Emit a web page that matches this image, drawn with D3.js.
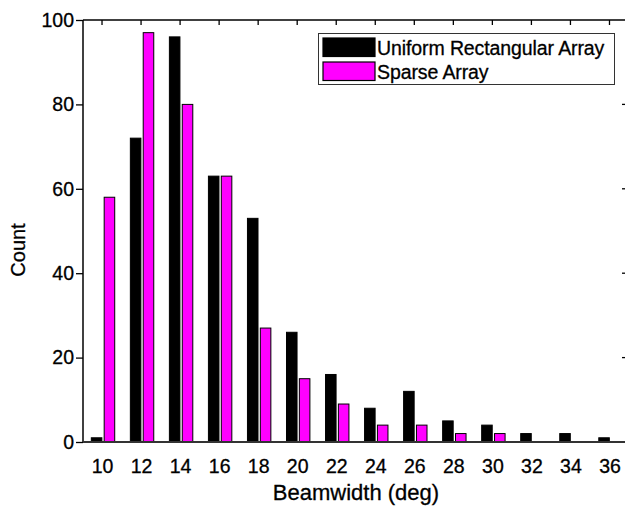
<!DOCTYPE html>
<html>
<head>
<meta charset="utf-8">
<script src="https://cdn.jsdelivr.net/npm/d3@7"></script>
<style>
  body { margin: 0; background: #fff; }
  text { font-family: "Liberation Sans", Arial, Helvetica, sans-serif; fill: #000; stroke: #000; stroke-width: 0.3px; }
</style>
</head>
<body>
<svg id="chart" width="625" height="506"></svg>
<script>
// beamwidth bins (deg)
var bins = [10, 12, 14, 16, 18, 20, 22, 24, 26, 28, 30, 32, 34, 36];
var seriesNames = ["Uniform Rectangular Array", "Sparse Array"];
var uraCounts = [1, 72, 96, 63, 53, 26, 16, 8, 12, 5, 4, 2, 2, 1];
var sparseCounts = [58, 97, 80, 63, 27, 15, 9, 4, 4, 2, 2, 0, 0, 0];
var yTicks = [0, 20, 40, 60, 80, 100];
var colors = ["#000000", "#ff00ff"];

var svg = d3.select("#chart");

var plotL = 83, plotR = 629, plotT = 20, plotB = 442;

var x = d3.scaleLinear().domain([9, 37]).range([plotL - 0.5, plotR]);
var y = d3.scaleLinear().domain([0, 100]).range([plotB, plotT]);
//offset of the two bars inside each group, in pixels around the tick
var inner = d3.scaleBand().domain(seriesNames).range([-10.7, 12.7]).paddingInner(0.18);

var rows = bins.map(function(b, i) {
    return { bin: b, values: [uraCounts[i], sparseCounts[i]] };
});

//bars
var groups = svg.selectAll(".grp")
    .data(rows)
    .enter().append("g")
    .attr("class", "grp")
    .attr("transform", function(d) { return "translate(" + x(d.bin) + ",0)"; });

groups.selectAll("rect")
    .data(function(d) { return d.values.map(function(v, k) { return { name: seriesNames[k], value: v, k: k }; }); })
    .enter().append("rect")
    .attr("x", function(d) { return inner(d.name); })
    .attr("width", inner.bandwidth())
    .attr("y", function(d) { return y(d.value); })
    .attr("height", function(d) { return plotB - y(d.value); })
    .style("fill", function(d) { return colors[d.k]; })
    .style("stroke", "#000")
    .style("stroke-width", 1)
    .style("display", function(d) { return d.value > 0 ? null : "none"; });

//axes
var xAxis = svg.append("g")
    .attr("transform", "translate(0," + plotB + ")")
    .call(d3.axisBottom(x).tickValues(bins).tickSize(0).tickPadding(17).tickFormat(d3.format("d")));
xAxis.select(".domain").remove();
xAxis.selectAll("text").style("font-size", "19.5px");

var yAxis = svg.append("g")
    .attr("transform", "translate(" + plotL + ",0)")
    .call(d3.axisLeft(y).tickValues(yTicks).tickSize(7).tickPadding(2));
yAxis.select(".domain").remove();
yAxis.selectAll("line").style("stroke", "#000").style("stroke-width", 1.3);
yAxis.selectAll("text").style("font-size", "19.5px");

//top ticks pointing down, right ticks pointing left
svg.append("g").selectAll("line")
    .data(bins)
    .enter().append("line")
    .attr("x1", function(d) { return x(d); })
    .attr("x2", function(d) { return x(d); })
    .attr("y1", plotT)
    .attr("y2", plotT + 5)
    .style("stroke", "#000")
    .style("stroke-width", 1.3);
svg.append("g").selectAll("line")
    .data(yTicks.slice(1, -1))
    .enter().append("line")
    .attr("x1", plotR - 7)
    .attr("x2", plotR)
    .attr("y1", function(d) { return y(d); })
    .attr("y2", function(d) { return y(d); })
    .style("stroke", "#000")
    .style("stroke-width", 1.3);

//box
svg.append("line").attr("x1", plotL).attr("x2", plotR).attr("y1", plotT).attr("y2", plotT)
    .style("stroke", "#000").style("stroke-width", 1.5);
svg.append("line").attr("x1", plotL).attr("x2", plotL).attr("y1", plotT).attr("y2", plotB)
    .style("stroke", "#000").style("stroke-width", 1.5);
svg.append("line").attr("x1", plotL).attr("x2", plotR).attr("y1", plotB).attr("y2", plotB)
    .style("stroke", "#333").style("stroke-width", 2);

//axis titles
svg.append("text")
    .attr("x", (plotL + plotR) / 2)
    .attr("y", 500)
    .attr("text-anchor", "middle")
    .style("font-size", "22px")
    .text("Beamwidth (deg)");
svg.append("text")
    .attr("transform", "translate(25,250) rotate(-90)")
    .attr("text-anchor", "middle")
    .style("font-size", "20px")
    .text("Count");

//legend
var legend = svg.append("g");
legend.append("rect")
    .attr("x", 318.5).attr("y", 33.5)
    .attr("width", 296).attr("height", 51)
    .style("fill", "#fff").style("stroke", "#333").style("stroke-width", 1);
seriesNames.forEach(function(name, k) {
    legend.append("rect")
        .attr("x", 323).attr("y", 38 + k * 24)
        .attr("width", 52).attr("height", 18.5)
        .style("fill", colors[k]).style("stroke", "#000").style("stroke-width", 1.2);
    legend.append("text")
        .attr("x", 377).attr("y", 55 + k * 24)
        .style("font-size", "19.5px")
        .style("letter-spacing", "-0.1px")
        .text(name);
});
</script>
</body>
</html>
